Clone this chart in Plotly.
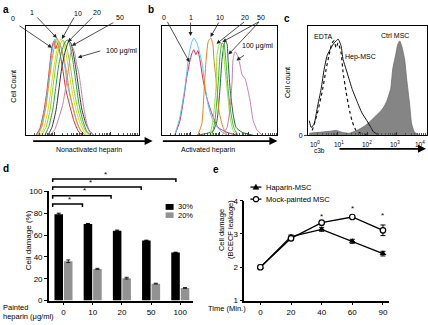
import numpy as np
import plotly.graph_objects as go

W, H = 428, 325
FONT = "Liberation Sans, Arial, sans-serif"


def px(x):
    return x / W


def py(y):
    return 1 - y / H


# ---------------- DATA ----------------
# Panel a: non-activated heparin, histograms (channel units, counts)
a_red_x = [10, 14, 18, 21, 24, 26, 28, 30, 32, 34, 37, 40, 44, 48, 52, 56]
a_red_y = [0, 7, 25, 45, 73, 90, 97, 89, 95, 85, 67, 47, 30, 15, 5, 0]
a_cyan_x = [11, 15, 19, 22, 25, 27, 29, 31, 33, 36, 39, 42, 46, 50, 54, 59]
a_cyan_y = [0, 8, 27, 50, 77, 91, 99, 95, 97, 87, 70, 50, 33, 17, 6, 0]
a_orange_x = [12, 16, 20, 23, 26, 29, 31, 33, 35, 38, 41, 44, 48, 52, 56, 60]
a_orange_y = [0, 9, 29, 53, 77, 93, 100, 95, 91, 80, 63, 43, 25, 11, 3, 0]
a_yellow_x = [14, 18, 22, 25, 28, 31, 33, 35, 37, 40, 43, 46, 50, 54, 58, 62]
a_yellow_y = [0, 8, 25, 47, 70, 87, 95, 99, 97, 85, 67, 47, 27, 13, 4, 0]
a_lime_x = [16, 20, 24, 27, 30, 33, 35, 37, 39, 42, 45, 48, 52, 56, 60, 64]
a_lime_y = [0, 8, 25, 49, 73, 89, 95, 98, 95, 85, 67, 47, 27, 13, 4, 0]
a_green_x = [19, 23, 27, 30, 33, 36, 38, 40, 42, 44, 47, 50, 53, 57, 61, 65]
a_green_y = [0, 9, 27, 50, 73, 87, 93, 97, 98, 93, 77, 55, 33, 15, 4, 0]
a_dark_x = [22, 26, 30, 33, 36, 39, 41, 43, 45, 47, 50, 53, 56, 60, 64, 68]
a_dark_y = [0, 8, 25, 47, 70, 85, 92, 97, 95, 87, 69, 47, 27, 12, 4, 0]
a_pink_x = [24, 29, 33, 37, 40, 43, 45, 47, 49, 51, 53, 55, 58, 61, 64, 68]
a_pink_y = [0, 6, 18, 32, 50, 70, 85, 90, 84, 72, 64, 50, 28, 12, 3, 0]

# Panel b: activated heparin
b_red_x = [13, 18, 22, 25, 28, 30, 32, 34, 36, 38, 41, 45, 50, 56, 65, 75]
b_red_y = [0, 14, 38, 60, 76, 84, 88, 83, 87, 78, 58, 38, 22, 8, 3, 0]
b_cyan_x = [13, 18, 23, 27, 30, 32, 35, 37, 40, 43, 46, 51, 58, 65]
b_cyan_y = [0, 18, 48, 82, 96, 100, 95, 88, 75, 52, 32, 15, 5, 0]
b_orange_x = [36, 40, 42, 44, 46, 47, 49, 51, 52, 55, 57, 61, 65]
b_orange_y = [0, 12, 42, 75, 95, 98, 100, 93, 78, 48, 25, 8, 0]
b_lime_x = [48, 51, 54, 55, 57, 59, 61, 63, 66, 68, 71, 75]
b_lime_y = [0, 15, 48, 82, 93, 94, 90, 68, 38, 18, 5, 0]
b_green_x = [50, 53, 56, 58, 60, 62, 64, 66, 69, 72, 76]
b_green_y = [0, 15, 50, 82, 95, 93, 75, 48, 22, 7, 0]
b_dark_x = [35, 45, 51, 55, 58, 60, 62, 63, 65, 66, 68, 71, 74, 80, 91]
b_dark_y = [0, 2, 4, 15, 48, 78, 93, 97, 94, 78, 48, 22, 8, 3, 0]
b_pink_x = [60, 65, 68, 70, 71, 73, 75, 78, 80, 83, 85, 88, 91, 95, 100]
b_pink_y = [0, 8, 28, 55, 78, 86, 83, 72, 62, 58, 50, 35, 15, 5, 0]

# Panel c: c3b staining
c_hep_x = [1, 3, 6, 9, 13, 16, 19, 23, 26, 28, 30, 33, 35, 38, 41, 44, 49, 54, 59, 63, 66, 71]
c_hep_y = [15, 8, 12, 28, 48, 68, 82, 90, 95, 97, 99, 92, 78, 68, 58, 48, 35, 23, 15, 8, 3, 1]
c_edta_x = [4, 9, 14, 18, 21, 24, 26, 28, 30, 33, 35, 38, 41, 44, 48, 53, 58]
c_edta_y = [5, 22, 45, 68, 83, 95, 97, 90, 95, 85, 65, 45, 28, 15, 5, 2, 1]
c_ctrl_x = [1, 11, 21, 28, 34, 41, 49, 56, 63, 69, 73, 76, 79, 83, 85, 88, 90, 92, 94, 97, 99, 102, 104, 107, 111]
c_ctrl_y = [2, 3, 4, 5, 3, 2, 5, 9, 15, 21, 25, 29, 35, 48, 68, 83, 93, 97, 92, 78, 58, 32, 12, 3, 1]
c_tick_labels = ["10<sup>0</sup>", "10<sup>1</sup>", "10<sup>2</sup>", "10<sup>3</sup>", "10<sup>4</sup>"]

# Panel d: cell damage by painted heparin dose
doses = ["0", "10", "20", "50", "100"]
d_30 = [79, 70, 64, 55, 44]
d_30_err = [1.0, 0.6, 0.5, 0.3, 0.3]
d_20 = [36, 29, 20.5, 15.5, 11.5]
d_20_err = [1.2, 0.5, 0.8, 0.4, 0.4]

# Panel e: time course
times = ["0", "20", "40", "60", "90"]
hep = [2.0, 2.92, 3.14, 2.78, 2.41]
hep_err = [0.06, 0.05, 0.06, 0.06, 0.07]
mock = [2.0, 2.87, 3.34, 3.51, 3.11]
mock_err = [0.06, 0.07, 0.05, 0.04, 0.16]
e_star_y = [3.53, 3.76, 3.55]

# ---------------- FIGURE ----------------
fig = go.Figure()


def hist(xs, ys, color, xa, ya, width=1.0, dash=None, fill=None, fillcolor=None):
    fig.add_trace(go.Scatter(
        x=xs, y=ys, mode="lines", xaxis=xa, yaxis=ya,
        line=dict(color=color, width=width, dash=dash, shape="spline", smoothing=0.5),
        fill=fill, fillcolor=fillcolor, showlegend=False, hoverinfo="skip"))


for xs, ys, col in [
    (a_red_x, a_red_y, "#e3262b"), (a_cyan_x, a_cyan_y, "#45c4e6"),
    (a_orange_x, a_orange_y, "#f08a24"), (a_yellow_x, a_yellow_y, "#d2dc12"),
    (a_lime_x, a_lime_y, "#7fd62a"), (a_green_x, a_green_y, "#2f9e35"),
    (a_dark_x, a_dark_y, "#333333"), (a_pink_x, a_pink_y, "#c67fa6")]:
    hist(xs, ys, col, "x", "y")

for xs, ys, col in [
    (b_dark_x, b_dark_y, "#1f6b22"), (b_red_x, b_red_y, "#d8265e"),
    (b_cyan_x, b_cyan_y, "#55c8e8"), (b_orange_x, b_orange_y, "#f07f1a"),
    (b_lime_x, b_lime_y, "#96e03a"), (b_green_x, b_green_y, "#3cb043"),
    (b_pink_x, b_pink_y, "#c47fb0")]:
    hist(xs, ys, col, "x2", "y2")

hist(c_ctrl_x, c_ctrl_y, "#6e6e6e", "x3", "y3", width=0.8, fill="tozeroy", fillcolor="#858585")
hist(c_edta_x, c_edta_y, "#111111", "x3", "y3", width=1.2, dash="dot")
hist(c_hep_x, c_hep_y, "#111111", "x3", "y3", width=1.0)

fig.add_trace(go.Bar(x=doses, y=d_30, name="30%", marker_color="black", marker_line_width=0,
                     error_y=dict(type="data", array=d_30_err, color="black", thickness=1, width=2),
                     xaxis="x4", yaxis="y4", showlegend=False))
fig.add_trace(go.Bar(x=doses, y=d_20, name="20%", marker_color="#929292", marker_line_width=0,
                     error_y=dict(type="data", array=d_20_err, color="#222222", thickness=1, width=2),
                     xaxis="x4", yaxis="y4", showlegend=False))

fig.add_trace(go.Scatter(x=times, y=hep, mode="lines+markers", xaxis="x5", yaxis="y5",
                         line=dict(color="black", width=1.3),
                         marker=dict(symbol="triangle-up", size=6, color="black"),
                         error_y=dict(type="data", array=hep_err, color="black", thickness=1, width=2.5),
                         showlegend=False))
fig.add_trace(go.Scatter(x=times, y=mock, mode="lines+markers", xaxis="x5", yaxis="y5",
                         line=dict(color="black", width=1.3),
                         marker=dict(symbol="circle", size=5.5, color="white", line=dict(color="black", width=1.2)),
                         error_y=dict(type="data", array=mock_err, color="black", thickness=1, width=2.5),
                         showlegend=False))


def log_ticks(width, decades=4):
    dec = width / decades
    major = [dec * i for i in range(decades + 1)]
    minor = [dec * (i + np.log10(k)) for i in range(decades) for k in range(2, 10)]
    return major, minor


def flow_x(domain, width, ticklen=3):
    major, minor = log_ticks(width)
    return dict(domain=domain, range=[0, width], showline=True, mirror=True, linecolor="black",
                linewidth=1.2, showgrid=False, zeroline=False, showticklabels=False,
                tickmode="array", tickvals=major, ticks="inside", ticklen=ticklen, tickwidth=0.8,
                tickcolor="#333",
                minor=dict(tickmode="array", tickvals=minor, ticks="inside", ticklen=2,
                           tickwidth=0.6, tickcolor="#555"))


def flow_y(domain, anchor):
    return dict(domain=domain, range=[0, 112], showline=True, mirror=True, linecolor="black",
                linewidth=1.2, showgrid=False, zeroline=False, showticklabels=False, ticks="",
                anchor=anchor)


top_dom = [py(135), py(23)]
bot_dom_d = [py(305), py(192.7)]
bot_dom_e = [py(305), py(202.3)]

xa = flow_x([px(26), px(139)], 113)
xa["anchor"] = "y"
xb = flow_x([px(162), px(278)], 115)
xb["anchor"] = "y2"
xc = flow_x([px(309), px(427.5)], 119)
xc["anchor"] = "y3"
yc = flow_y(top_dom, "x3")
yc.update(tickmode="array", tickvals=[0], ticktext=["0"], showticklabels=True, ticks="outside",
          ticklen=3, tickfont=dict(size=7, family=FONT, color="black"))

axis_common = dict(showline=True, linecolor="black", linewidth=1.5, showgrid=False, zeroline=False,
                   ticks="outside", ticklen=3, tickwidth=1.2, tickcolor="black",
                   tickfont=dict(size=8, family=FONT, color="black"))

fig.update_layout(
    width=W, height=H, margin=dict(l=0, r=0, t=0, b=0),
    paper_bgcolor="white", plot_bgcolor="white",
    font=dict(family=FONT, size=8, color="black"),
    barmode="group", bargap=0.35, bargroupgap=0.1,
    showlegend=False,
    xaxis=xa, yaxis=flow_y(top_dom, "x"),
    xaxis2=xb, yaxis2=flow_y(top_dom, "x2"),
    xaxis3=xc, yaxis3=yc,
    xaxis4=dict(domain=[px(49), px(193)], anchor="y4", type="category", range=[-0.5, 4.42],
                **axis_common),
    yaxis4=dict(domain=bot_dom_d, anchor="x4", range=[0, 100], dtick=20, **axis_common),
    xaxis5=dict(domain=[px(245), px(390)], anchor="y5", type="category", range=[-0.52, 4.2],
                **axis_common),
    yaxis5=dict(domain=bot_dom_e, anchor="x5", range=[1, 4], dtick=1, **axis_common),
)

ann = []
shapes = []


def txt(x, y, s, size=7, xanchor="center", yanchor="middle", angle=0, bold=False):
    if bold:
        s = "<b>" + s + "</b>"
    ann.append(dict(x=px(x), y=py(y), xref="paper", yref="paper", text=s, showarrow=False,
                    xanchor=xanchor, yanchor=yanchor, textangle=angle,
                    font=dict(size=size, family=FONT, color="black")))


def arr(x0, y0, x1, y1, width=0.8, head=2, size=1.0, color="#222"):
    ann.append(dict(x=px(x1), y=py(y1), xref="paper", yref="paper", text="", showarrow=True,
                    ax=x0 - x1, ay=y0 - y1, axref="pixel", ayref="pixel", arrowhead=head,
                    arrowsize=size, arrowwidth=width, arrowcolor=color, standoff=0,
                    startstandoff=0))


# panel letters
txt(6, 6, "a", size=10, bold=True)
txt(151, 6, "b", size=10, bold=True)
txt(288, 15, "c", size=10, bold=True)
txt(6, 169, "d", size=10, bold=True)
txt(217, 170, "e", size=10, bold=True)

# panel a labels and arrows
txt(14, 84, "Cell Count", size=7, angle=-90)
txt(13, 15, "0")
txt(32, 9, "1")
txt(78, 10, "10")
txt(97, 9, "20")
txt(120, 14, "50")
txt(122, 48, "100 μg/ml")
arr(18, 22, 52, 45)
arr(36, 13, 57, 35)
arr(75, 13, 62, 36)
arr(94, 13, 68, 39)
arr(115, 19, 72, 43)
arr(102, 48, 78, 55)
arr(32, 141, 153, 141, width=1.6, head=2, size=1.0, color="black")
txt(89, 150, "Nonactivated heparin")

# panel b labels and arrows
txt(164, 14, "0")
txt(191, 14, "1")
txt(221, 14, "10")
txt(246, 14, "20")
txt(262, 14, "50")
txt(258, 43, "100 μg/ml")
arr(167, 18, 190, 60)
arr(191, 18, 191, 33)
arr(220, 18, 211, 34)
arr(246, 18, 217, 41)
arr(261, 18, 223, 39)
arr(261, 18, 229, 52)
arr(246, 52, 237, 58)
arr(162, 141, 278, 141, width=1.6, head=2, size=1.0, color="black")
txt(208, 150, "Activated heparin")

# panel c labels
txt(288, 81, "Cell count", size=7, angle=-90)
txt(324, 33, "EDTA")
txt(361, 54, "Hep-MSC")
txt(396, 32, "Ctrl MSC")
for xpos, lab in zip([316, 340, 368, 396, 421], c_tick_labels):
    txt(xpos, 144, lab, size=6.5)
txt(320, 151, "c3b", size=6.5)
arr(339, 149, 427, 149, width=1.6, head=2, size=1.0, color="black")

# panel d extras
txt(28, 243, "Cell damage (%)", size=8, angle=-90)
txt(1, 312, "Painted", size=7.5, xanchor="left")
txt(1, 321, "heparin (μg/ml)", size=7.5, xanchor="left")
shapes.append(dict(type="rect", xref="paper", yref="paper", x0=px(166), x1=px(174),
                   y0=py(211.7), y1=py(205.7), fillcolor="black", line=dict(width=0)))
shapes.append(dict(type="rect", xref="paper", yref="paper", x0=px(166), x1=px(174),
                   y0=py(220), y1=py(214.3), fillcolor="#929292", line=dict(width=0)))
txt(176, 208.7, "30%", size=7.5, xanchor="left")
txt(176, 217.2, "20%", size=7.5, xanchor="left")

brackets = [(180.0, 3.85, 1.44), (188.3, 2.66, 0.91), (197.3, 1.63, 0.735), (205.7, 0.65, 0.22)]
for yb, xr, xs in brackets:
    xl = -0.37
    shapes.append(dict(type="path", xref="x4", yref="paper",
                       path=f"M {xl} {py(yb + 3)} L {xl} {py(yb)} L {xr} {py(yb)} L {xr} {py(yb + 3)}",
                       line=dict(color="black", width=1.5)))
    ann.append(dict(x=xs, y=py(yb - 5), xref="x4", yref="paper", text="*", showarrow=False,
                    font=dict(size=8, family=FONT, color="black"), xanchor="center", yanchor="middle"))

# panel e extras
txt(222, 232, "Cell damage", size=7.5, angle=-90)
txt(231, 232, "(BCECF leakage)", size=7.5, angle=-90)
txt(249, 313, "Time (Min.)", size=7.5, xanchor="right")
for xi, ys in zip([2, 3, 4], e_star_y):
    ann.append(dict(x=xi, y=ys, xref="x5", yref="y5", text="*", showarrow=False,
                    font=dict(size=8, family=FONT, color="black"), xanchor="center", yanchor="middle"))

shapes.append(dict(type="line", xref="paper", yref="paper", x0=px(251), x1=px(262),
                   y0=py(188.3), y1=py(188.3), line=dict(color="black", width=1.3)))
shapes.append(dict(type="path", xref="paper", yref="paper",
                   path=f"M {px(253.5)} {py(190.6)} L {px(259.5)} {py(190.6)} L {px(256.5)} {py(185.3)} Z",
                   fillcolor="black", line=dict(color="black", width=0.5)))
shapes.append(dict(type="line", xref="paper", yref="paper", x0=px(251), x1=px(262),
                   y0=py(200.7), y1=py(200.7), line=dict(color="black", width=1.3)))
shapes.append(dict(type="circle", xref="paper", yref="paper", x0=px(254), x1=px(259.2),
                   y0=py(203.3), y1=py(198.1), fillcolor="white", line=dict(color="black", width=1.1)))
txt(264.5, 188.3, "Haparin-MSC", size=7.5, xanchor="left")
txt(264.5, 200.7, "Mock-painted MSC", size=7.5, xanchor="left")

fig.update_layout(annotations=ann, shapes=shapes)
fig.write_html("out.html", config={"displayModeBar": False},
               post_script="document.body.style.margin='0';document.body.style.padding='0';")
